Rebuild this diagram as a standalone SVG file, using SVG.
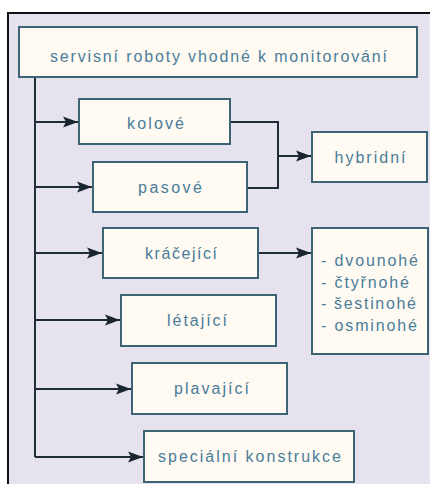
<svg xmlns="http://www.w3.org/2000/svg" width="430" height="484" viewBox="0 0 430 484">
<style>
.box{fill:#fffaf2;stroke:#3d6474;stroke-width:2}
.t{font-family:"Liberation Sans",Arial,sans-serif;font-size:16px;fill:#4a7d9a;text-anchor:middle}
.l{font-family:"Liberation Sans",Arial,sans-serif;font-size:16px;fill:#4a7d9a}
.c{fill:none;stroke:#1f2d36;stroke-width:2}
</style>
<defs>
<marker id="ah" markerUnits="userSpaceOnUse" markerWidth="16" markerHeight="12" refX="15" refY="6" orient="auto">
<path d="M0,0.5 L15,6 L0,11.5 L3,6 z" fill="#1a262e"/>
</marker>
</defs>
<rect x="0" y="0" width="430" height="484" fill="#ffffff"/>
<rect x="8" y="13" width="430" height="480" fill="#e6e2ee" stroke="#111111" stroke-width="2"/>
<g id="connectors">
<path class="c" d="M35,77 V457"/>
<path class="c" d="M35,122 H78" marker-end="url(#ah)"/>
<path class="c" d="M35,187 H92" marker-end="url(#ah)"/>
<path class="c" d="M35,253 H102" marker-end="url(#ah)"/>
<path class="c" d="M35,320 H120" marker-end="url(#ah)"/>
<path class="c" d="M35,389 H131" marker-end="url(#ah)"/>
<path class="c" d="M35,457 H143" marker-end="url(#ah)"/>
<path class="c" d="M230,122 H278 V188 H247"/>
<path class="c" d="M278,156 H311" marker-end="url(#ah)"/>
<path class="c" d="M258,253 H311" marker-end="url(#ah)"/>
</g>
<g id="root"><rect class="box" x="19" y="27" width="398" height="50"/><text class="t" x="218.5" y="62" textLength="337" lengthAdjust="spacing">servisní roboty vhodné k monitorování</text></g>
<g id="kolove"><rect class="box" x="79" y="99" width="151" height="45"/><text class="t" x="155.5" y="129" textLength="57" lengthAdjust="spacing">kolové</text></g>
<g id="pasove"><rect class="box" x="93" y="162" width="154" height="50"/><text class="t" x="170" y="193" textLength="64" lengthAdjust="spacing">pasové</text></g>
<g id="hybridni"><rect class="box" x="312" y="132" width="115" height="50"/><text class="t" x="370" y="163" textLength="71" lengthAdjust="spacing">hybridní</text></g>
<g id="kracejici"><rect class="box" x="103" y="228" width="155" height="50"/><text class="t" x="181" y="259" textLength="72" lengthAdjust="spacing">kráčející</text></g>
<g id="nohy"><rect class="box" x="312" y="228" width="116" height="126"/>
<text class="l" x="321" y="266" textLength="97" lengthAdjust="spacing">- dvounohé</text>
<text class="l" x="321" y="288" textLength="88" lengthAdjust="spacing">- čtyřnohé</text>
<text class="l" x="321" y="309" textLength="95" lengthAdjust="spacing">- šestinohé</text>
<text class="l" x="321" y="331" textLength="96" lengthAdjust="spacing">- osminohé</text>
</g>
<g id="letajici"><rect class="box" x="121" y="295" width="155" height="51"/><text class="t" x="197" y="326" textLength="60" lengthAdjust="spacing">létající</text></g>
<g id="plavajici"><rect class="box" x="132" y="363" width="155" height="51"/><text class="t" x="211.5" y="394" textLength="75" lengthAdjust="spacing">plavající</text></g>
<g id="specialni"><rect class="box" x="144" y="431" width="210" height="51"/><text class="t" x="249.5" y="462" textLength="183" lengthAdjust="spacing">speciální konstrukce</text></g>
</svg>
